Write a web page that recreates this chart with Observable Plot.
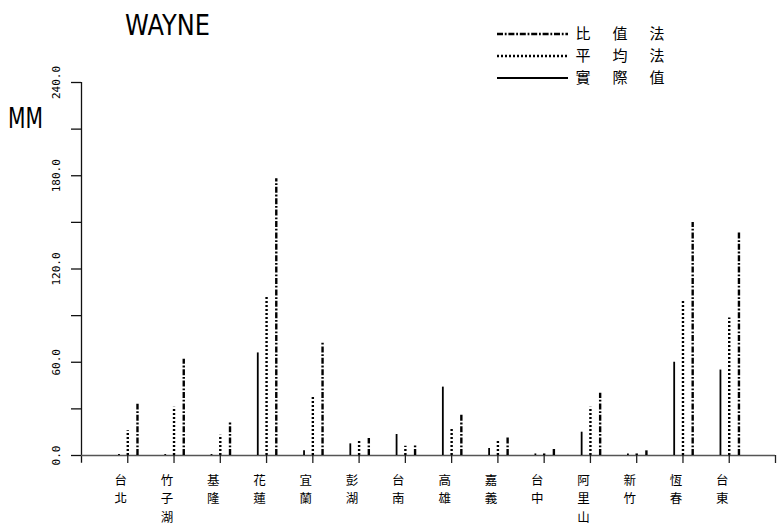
<!DOCTYPE html>
<html>
<head>
<meta charset="utf-8">
<script src="https://cdn.jsdelivr.net/npm/d3@7"></script>
<script src="https://cdn.jsdelivr.net/npm/@observablehq/plot@0.6"></script>
<style>
  html, body { margin: 0; padding: 0; background: #fff; }
  #chart { position: relative; width: 777px; height: 529px; }
  svg { display: block; }
</style>
</head>
<body>
<div id="chart"></div>
<script>
// ---- data ----
const categories = ["台北","竹子湖","基隆","花蓮","宜蘭","彭湖","台南","高雄","嘉義","台中","阿里山","新竹","恆春","台東"];
const actual  = [0.6, 0.6, 0.6, 66, 3, 7.5, 13.5, 44, 4.5, 1, 15, 1, 60, 55];   // 實際值
const average = [16, 31, 13, 103, 38.5, 9, 6, 17, 9, 1, 31, 1, 99.5, 88.5];      // 平均法
const ratio   = [33, 62, 21, 178, 73, 11, 7, 26, 12, 5, 40, 3, 150, 144];        // 比值法
const yTicks = [0, 30, 60, 90, 120, 150, 180, 210, 240];
const yLabels = [0, 60, 120, 180, 240];
const xTicks = [1,2,3,4,5,6,7,8,9,10,11,12,13,14,15];
const legendItems = ["比值法", "平均法", "實際值"];
const title = "WAYNE";
const yTitle = "MM";

const rows = categories.map((c, i) => ({cat: c, pos: i + 1, actual: actual[i], average: average[i], ratio: ratio[i]}));

const cjk = "'Noto Sans CJK TC', 'Noto Sans CJK SC', sans-serif";
const mono = "'DejaVu Sans Mono', monospace";
const dotDash = "2,2";
const dashDot = "6,1.8,1.8,1.8";

const plot = Plot.plot({
  width: 777,
  height: 529,
  marginLeft: 81,
  marginRight: 2,
  marginTop: 82,
  marginBottom: 74,
  style: {background: "#fff", color: "#000", overflow: "visible"},
  x: {type: "linear", domain: [0, 15], axis: null},
  y: {domain: [0, 240], axis: null},
  marks: [
    // y axis line (slightly extended below the baseline)
    Plot.ruleX([0], {y1: -5, y2: 240, stroke: "#111", strokeWidth: 1.3}),
    Plot.axisY({ticks: yTicks, tickSize: 10, tickFormat: () => "", label: null, stroke: "#111", strokeWidth: 1.3, anchor: "left"}),
    Plot.text(yLabels, {x: 0, y: d => d, text: d => d.toFixed(1), rotate: -90, textAnchor: "middle",
      lineAnchor: "middle", dx: -25, fontSize: 11, fontFamily: mono, fill: "#000"}),
    // x axis baseline + ticks
    Plot.ruleY([0], {stroke: "#555", strokeWidth: 1.6}),
    Plot.axisX({ticks: xTicks, tickSize: 8, tickFormat: () => "", label: null, stroke: "#222", strokeWidth: 1.3, anchor: "bottom"}),
    // bars as vertical rules
    Plot.ruleX(rows, {x: d => d.pos - 0.19, y1: 0, y2: "actual", stroke: "#000", strokeWidth: 1.8}),
    Plot.ruleX(rows, {x: d => d.pos, y1: 0, y2: "average", stroke: "#000", strokeWidth: 2.4, strokeDasharray: dotDash}),
    Plot.ruleX(rows, {x: d => d.pos + 0.21, y1: 0, y2: "ratio", stroke: "#000", strokeWidth: 2.4, strokeDasharray: dashDot}),
    // category labels (vertical)
    Plot.text(rows, {x: "pos", y: 0, text: d => [...d.cat].join("\n"), dx: -7, dy: 17, lineAnchor: "top",
      lineHeight: 1.45, fontSize: 12.5, fontFamily: cjk, fill: "#000"})
  ]
});

document.getElementById("chart").appendChild(plot);

// ---- title, y title, legend ----
const svg = d3.select(plot);
svg.append("text").attr("x", 125).attr("y", 35).attr("text-anchor", "start")
  .attr("textLength", 85).attr("lengthAdjust", "spacingAndGlyphs")
  .attr("font-family", "'DejaVu Sans', sans-serif").attr("font-size", 29).attr("fill", "#000").text(title);
svg.append("text").attr("x", 8).attr("y", 128).attr("text-anchor", "start")
  .attr("textLength", 35).attr("lengthAdjust", "spacingAndGlyphs")
  .attr("font-family", "'DejaVu Sans', sans-serif").attr("font-size", 29).attr("fill", "#000").text(yTitle);

const dashes = [dashDot, dotDash, null];
const legY = [34, 56, 78];
const charX = [583, 620, 657];
legendItems.forEach((label, i) => {
  const ln = svg.append("line").attr("x1", 497).attr("x2", 568).attr("y1", legY[i]).attr("y2", legY[i])
    .attr("stroke", "#000").attr("stroke-width", i === 2 ? 1.8 : 2.4);
  if (dashes[i]) ln.attr("stroke-dasharray", dashes[i]);
  [...label].forEach((ch, j) => {
    svg.append("text").attr("x", charX[j]).attr("y", legY[i]).attr("dy", "0.36em").attr("text-anchor", "middle")
      .attr("font-family", cjk).attr("font-size", 15).attr("fill", "#000").text(ch);
  });
});
</script>
</body>
</html>
